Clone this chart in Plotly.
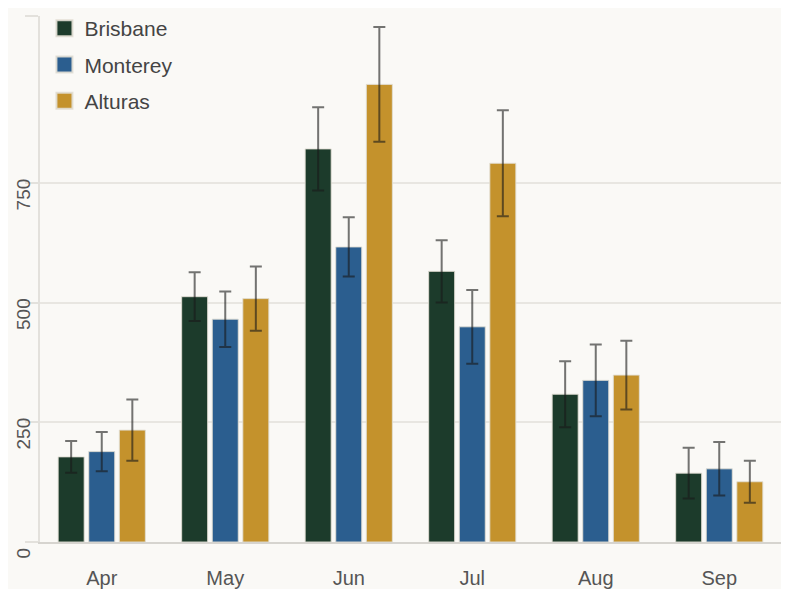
import plotly.graph_objects as go

months = ["Apr", "May", "Jun", "Jul", "Aug", "Sep"]
cities = ["Brisbane", "Monterey", "Alturas"]
brisbane = [178, 513, 822, 566, 309, 144]
brisbane_err = [33, 51, 87, 65, 69, 53]
monterey = [189, 466, 617, 450, 338, 153]
monterey_err = [41, 58, 62, 77, 75, 56]
alturas = [234, 509, 957, 792, 349, 126]
alturas_err = [64, 67, 120, 111, 72, 44]
colors = ["#1c3b2b", "#2b5e8f", "#c4922c"]
y_ticks = [0, 250, 500, 750, 1100]
y_tick_text = ["0", "250", "500", "750", ""]

series = [brisbane, monterey, alturas]
errors = [brisbane_err, monterey_err, alturas_err]

fig = go.Figure()
for name, vals, errs, col in zip(cities, series, errors, colors):
    fig.add_trace(go.Bar(
        x=months, y=vals, name=name, showlegend=False,
        marker=dict(color=col, line=dict(color="rgba(225,222,212,0.9)", width=1)),
        error_y=dict(type="data", array=errs, visible=True,
                     color="rgba(25,25,25,0.6)", thickness=2, width=6),
    ))
for name, col in zip(cities, colors):
    fig.add_trace(go.Scatter(
        x=[None], y=[None], mode="markers", name=name, legendgroup=name,
        marker=dict(symbol="square", size=16, color=col,
                    line=dict(color="rgba(225,222,212,0.9)", width=2)),
    ))

fig.update_layout(
    width=781, height=581,
    margin=dict(l=32, r=8, t=0, b=42),
    paper_bgcolor="#faf9f6", plot_bgcolor="#faf9f6",
    font=dict(family="Liberation Sans, Arial, sans-serif", color="#555555", size=19),
    barmode="group", bargap=0.257, bargroupgap=0.15,
    showlegend=True,
    legend=dict(x=0.006, y=1.016, xanchor="left", yanchor="top",
                bgcolor="rgba(0,0,0,0)", font=dict(size=21, color="#444444"),
                traceorder="grouped", tracegroupgap=6, itemsizing="trace"),
    xaxis=dict(showgrid=False, showline=True, linecolor="#d6d4cf", linewidth=1.5,
               ticks="", tickfont=dict(size=20, color="#555555"),
               ticklabelstandoff=17, range=[-0.5, 5.5]),
    yaxis=dict(range=[0, 1100], tickvals=y_ticks, ticktext=y_tick_text,
               showgrid=True, gridcolor="#e8e6e1", gridwidth=1.5,
               showline=True, linecolor="#e3e1dc", linewidth=2,
               ticks="outside", ticklen=13, tickcolor="#e3e1dc", tickwidth=1.5,
               tickangle=-90, ticklabelposition="outside bottom",
               tickfont=dict(size=19, color="#555555"), zeroline=False),
)

fig.write_html("out.html")
